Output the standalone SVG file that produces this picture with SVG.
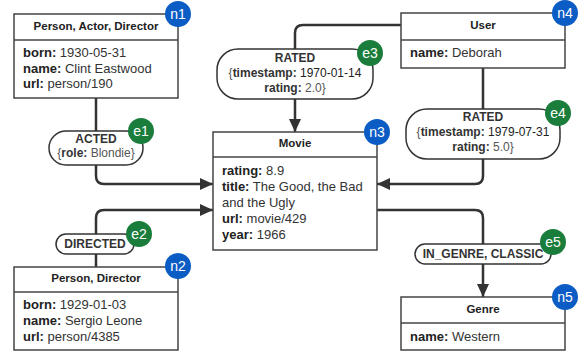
<svg xmlns="http://www.w3.org/2000/svg" width="579" height="360" viewBox="0 0 579 360">
<style>
text{font-family:"Liberation Sans",Arial,sans-serif;}
.box{fill:#fff;stroke:#444;stroke-width:1.5;}
.div{stroke:#444;stroke-width:1.5;}
.title{font-size:11.5px;font-weight:bold;fill:#222;text-anchor:middle;}
.prop{font-size:13px;fill:#333;}
.prop tspan.k{font-weight:bold;fill:#222;}
.pill{fill:#fff;stroke:#333;stroke-width:1.5;}
.pt{font-size:12px;fill:#555;text-anchor:middle;}
.pt .b{font-weight:bold;fill:#333;}
.pt .d{fill:#222;}
.conn{fill:none;stroke:#333;stroke-width:2.5;}
.nb{fill:#0b5cc4;}
.eb{fill:#1b7d3b;}
.bt{font-size:14px;fill:#fff;text-anchor:middle;}
</style>
<defs>
<marker id="arr" markerUnits="userSpaceOnUse" markerWidth="14" markerHeight="12" refX="13" refY="6" orient="auto">
<path d="M0,0 L13,6 L0,12 Z" fill="#333"/>
</marker>
</defs>
<g id="connectors">
<path class="conn" d="M96,98 V176 Q96,184 104,184 H213" marker-end="url(#arr)"/>
<path class="conn" d="M96,267 V218 Q96,210 104,210 H213" marker-end="url(#arr)"/>
<path class="conn" d="M401,25 H303 Q295,25 295,33 V132" marker-end="url(#arr)"/>
<path class="conn" d="M483,68 V176 Q483,184 475,184 H377" marker-end="url(#arr)"/>
<path class="conn" d="M377,210 H475 Q483,210 483,218 V297" marker-end="url(#arr)"/>
</g>
<g id="e1">
<rect class="pill" x="49" y="131" width="94" height="34" rx="17"/>
<text class="pt" x="96" y="143"><tspan class="b">ACTED</tspan></text>
<text class="pt" x="96" y="157">{<tspan class="b">role:</tspan> Blondie}</text>
<circle class="eb" cx="141" cy="131" r="13"/>
<text class="bt" x="141" y="136">e1</text>
</g>
<g id="e2">
<rect class="pill" x="56" y="234" width="78" height="20" rx="10"/>
<text class="pt" x="95" y="248"><tspan class="b">DIRECTED</tspan></text>
<circle class="eb" cx="139" cy="234" r="13"/>
<text class="bt" x="139" y="239">e2</text>
</g>
<g id="e3">
<rect class="pill" x="217" y="49" width="156" height="50" rx="21"/>
<text class="pt" x="295" y="62"><tspan class="b">RATED</tspan></text>
<text class="pt" x="295" y="77">{<tspan class="b">timestamp:</tspan> <tspan class="d">1970-01-14</tspan></text>
<text class="pt" x="295" y="92"><tspan class="b">rating:</tspan> 2.0}</text>
<circle class="eb" cx="370" cy="53" r="13"/>
<text class="bt" x="370" y="58">e3</text>
</g>
<g id="e4">
<rect class="pill" x="406" y="109" width="154" height="50" rx="21"/>
<text class="pt" x="483" y="121"><tspan class="b">RATED</tspan></text>
<text class="pt" x="483" y="136">{<tspan class="b">timestamp:</tspan> <tspan class="d">1979-07-31</tspan></text>
<text class="pt" x="483" y="151"><tspan class="b">rating:</tspan> 5.0}</text>
<circle class="eb" cx="558" cy="113" r="13"/>
<text class="bt" x="558" y="118">e4</text>
</g>
<g id="e5">
<rect class="pill" x="415" y="244" width="136" height="20" rx="10"/>
<text class="pt" x="483" y="258"><tspan class="b">IN_GENRE, CLASSIC</tspan></text>
<circle class="eb" cx="553" cy="242" r="13"/>
<text class="bt" x="553" y="247">e5</text>
</g>
<g id="n1">
<rect class="box" x="14" y="14" width="164" height="84"/>
<line class="div" x1="14" y1="40" x2="178" y2="40"/>
<text class="title" x="96" y="30">Person, Actor, Director</text>
<text class="prop" x="23" y="57"><tspan class="k">born:</tspan> 1930-05-31</text>
<text class="prop" x="23" y="72.5"><tspan class="k">name:</tspan> Clint Eastwood</text>
<text class="prop" x="23" y="88"><tspan class="k">url:</tspan> person/190</text>
<circle class="nb" cx="178" cy="14" r="13"/>
<text class="bt" x="178" y="19">n1</text>
</g>
<g id="n2">
<rect class="box" x="14" y="267" width="164" height="83"/>
<line class="div" x1="14" y1="292" x2="178" y2="292"/>
<text class="title" x="96" y="282">Person, Director</text>
<text class="prop" x="23" y="308.5"><tspan class="k">born:</tspan> 1929-01-03</text>
<text class="prop" x="23" y="324.5"><tspan class="k">name:</tspan> Sergio Leone</text>
<text class="prop" x="23" y="340.5"><tspan class="k">url:</tspan> person/4385</text>
<circle class="nb" cx="178" cy="266" r="13"/>
<text class="bt" x="178" y="271">n2</text>
</g>
<g id="n3">
<rect class="box" x="213" y="132" width="164" height="118"/>
<line class="div" x1="213" y1="157" x2="377" y2="157"/>
<text class="title" x="295" y="147">Movie</text>
<text class="prop" x="222" y="175"><tspan class="k">rating:</tspan> 8.9</text>
<text class="prop" x="222" y="191"><tspan class="k">title:</tspan> The Good, the Bad</text>
<text class="prop" x="222" y="206.5">and the Ugly</text>
<text class="prop" x="222" y="222.5"><tspan class="k">url:</tspan> movie/429</text>
<text class="prop" x="222" y="239"><tspan class="k">year:</tspan> 1966</text>
<circle class="nb" cx="377" cy="132" r="13"/>
<text class="bt" x="377" y="137">n3</text>
</g>
<g id="n4">
<rect class="box" x="401" y="13" width="164" height="55"/>
<line class="div" x1="401" y1="40" x2="565" y2="40"/>
<text class="title" x="483" y="29">User</text>
<text class="prop" x="410" y="56.5"><tspan class="k">name:</tspan> Deborah</text>
<circle class="nb" cx="565" cy="13" r="13"/>
<text class="bt" x="565" y="18">n4</text>
</g>
<g id="n5">
<rect class="box" x="401" y="297" width="164" height="53"/>
<line class="div" x1="401" y1="323" x2="565" y2="323"/>
<text class="title" x="483" y="313">Genre</text>
<text class="prop" x="410" y="340.5"><tspan class="k">name:</tspan> Western</text>
<circle class="nb" cx="565" cy="297" r="13"/>
<text class="bt" x="565" y="302">n5</text>
</g>
</svg>
